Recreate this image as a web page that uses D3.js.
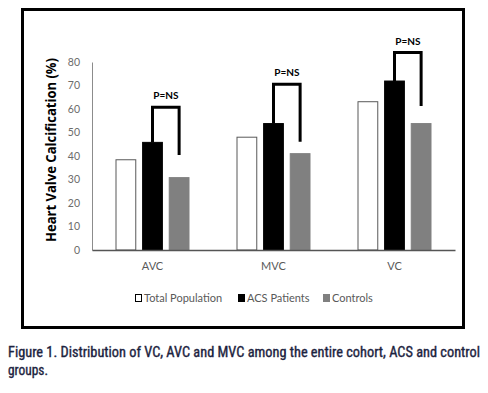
<!DOCTYPE html>
<html>
<head>
<meta charset="utf-8">
<script src="https://cdn.jsdelivr.net/npm/d3@7"></script>
<style>
  body { margin: 0; background: #fff; }
  svg { display: block; }
</style>
</head>
<body>
<div id="chart"></div>
<script>
// values
const categories = ["AVC", "MVC", "VC"];
const seriesNames = ["Total Population", "ACS Patients", "Controls"];
const totalPopulation = [38.4, 48.0, 63.1];
const acsPatients = [45.8, 53.8, 71.9];
const controls = [30.8, 41.0, 53.8];
const yTicks = [0, 10, 20, 30, 40, 50, 60, 70, 80];
// significance brackets: height of top bar, end of right leg
const bracketTop = [60.7, 70.5, 84.0];
const bracketEnd = [40.4, 46.1, 61.3];
const bracketLabel = ["P=NS", "P=NS", "P=NS"];

const width = 488, height = 393;
const margin = { top: 62, right: 33, bottom: 143, left: 92 };
const innerW = width - margin.left - margin.right;
const innerH = height - margin.top - margin.bottom;

const svg = d3.select('#chart')
  .append('svg')
  .attr('width', width)
  .attr('height', height);

// frame round the chart
svg.append('rect')
  .attr('x', 22.5).attr('y', 9.5)
  .attr('width', 441).attr('height', 318)
  .attr('fill', 'none')
  .attr('stroke', '#000')
  .attr('stroke-width', 3);

const g = svg.append('g')
  .attr('transform', `translate(${margin.left},${margin.top})`);

const x0 = d3.scaleBand().domain(categories).range([0, innerW]).paddingInner(0).paddingOuter(0);
const x1 = d3.scaleBand().domain(seriesNames).range([23.5, x0.bandwidth() - 23.5]).paddingInner(0.22).paddingOuter(0);
const y = d3.scaleLinear().domain([0, 80]).range([innerH, 0]);

const fills = { "Total Population": "#fff", "ACS Patients": "#000", "Controls": "#808080" };
const strokes = { "Total Population": "#595959", "ACS Patients": "#000", "Controls": "#808080" };

const rows = categories.map((c, i) => ({
  cat: c,
  vals: [
    { s: seriesNames[0], v: totalPopulation[i] },
    { s: seriesNames[1], v: acsPatients[i] },
    { s: seriesNames[2], v: controls[i] }
  ]
}));

// y axis
const yAxis = g.append('g')
  .call(d3.axisLeft(y).tickValues(yTicks).tickSize(0).tickPadding(12));
yAxis.select('.domain').attr('stroke', '#8c8c8c');
yAxis.selectAll('text')
  .attr('fill', '#6b6b6b')
  .style('font-family', 'Lato, "Open Sans", sans-serif')
  .style('font-size', '10.5px');

// bars
const grp = g.selectAll('.grp')
  .data(rows)
  .enter().append('g')
  .attr('transform', d => `translate(${x0(d.cat)},0)`);

grp.selectAll('rect')
  .data(d => d.vals)
  .enter().append('rect')
  .attr('x', d => x1(d.s) + 0.5)
  .attr('y', d => y(d.v))
  .attr('width', x1.bandwidth() - 1)
  .attr('height', d => innerH - y(d.v))
  .attr('fill', d => fills[d.s])
  .attr('stroke', d => strokes[d.s])
  .attr('stroke-width', 1);

// x axis
const xAxis = g.append('g')
  .attr('transform', `translate(0,${innerH})`)
  .call(d3.axisBottom(x0).tickSize(0).tickPadding(12));
xAxis.select('.domain').attr('stroke', '#555').attr('stroke-width', 1.3);
xAxis.selectAll('text')
  .attr('fill', '#595959')
  .style('font-family', 'Lato, "Open Sans", sans-serif')
  .style('font-size', '11px');

// brackets
rows.forEach((r, i) => {
  const left = x0(r.cat) + x1(seriesNames[1]) + x1.bandwidth() / 2;
  const right = x0(r.cat) + x1(seriesNames[2]) + x1.bandwidth() / 2;
  const line = d3.line();
  g.append('path')
    .attr('d', line([[left, y(r.vals[1].v)], [left, y(bracketTop[i])], [right, y(bracketTop[i])], [right, y(bracketEnd[i])]]))
    .attr('fill', 'none')
    .attr('stroke', '#000')
    .attr('stroke-width', 3);
  g.append('text')
    .attr('x', (left + right) / 2)
    .attr('y', y(bracketTop[i]) - 8)
    .attr('text-anchor', 'middle')
    .style('font-family', 'Lato, "Open Sans", sans-serif')
    .style('font-weight', 'bold')
    .style('font-size', '10px')
    .text(bracketLabel[i]);
});

// y axis title
svg.append('text')
  .attr('transform', 'translate(56,150) rotate(-90)')
  .attr('text-anchor', 'middle')
  .attr('textLength', 184)
  .attr('lengthAdjust', 'spacingAndGlyphs')
  .style('font-family', '"Open Sans", Lato, sans-serif')
  .style('font-weight', 'bold')
  .style('font-size', '13.5px')
  .text('Heart Valve Calcification (%)');

// legend
const legendX = [135, 238, 323];
const legend = svg.append('g').attr('transform', 'translate(0,298)');
seriesNames.forEach((s, i) => {
  legend.append('rect')
    .attr('x', legendX[i] + 0.5).attr('y', -3.5)
    .attr('width', 6).attr('height', 7)
    .attr('fill', fills[s])
    .attr('stroke', i === 0 ? '#000' : fills[s])
    .attr('stroke-width', 1);
  legend.append('text')
    .attr('x', legendX[i] + 9)
    .attr('y', 4)
    .attr('fill', '#595959')
    .style('font-family', 'Lato, "Open Sans", sans-serif')
    .style('font-size', '11px')
    .text(s);
});

// caption
const capFont = '"Liberation Sans Narrow", "Roboto Condensed", "Liberation Sans", sans-serif';
svg.append('text')
  .attr('x', 8).attr('y', 357)
  .attr('textLength', 472)
  .attr('lengthAdjust', 'spacingAndGlyphs')
  .attr('fill', '#1c2340')
  .attr('stroke', '#1c2340')
  .attr('stroke-width', 0.35)
  .style('font-family', capFont)
  .style('font-size', '14px')
  .text('Figure 1. Distribution of VC, AVC and MVC among the entire cohort, ACS and control');
svg.append('text')
  .attr('x', 8).attr('y', 375)
  .attr('textLength', 40)
  .attr('lengthAdjust', 'spacingAndGlyphs')
  .attr('fill', '#1c2340')
  .attr('stroke', '#1c2340')
  .attr('stroke-width', 0.35)
  .style('font-family', capFont)
  .style('font-size', '14px')
  .text('groups.');
</script>
</body>
</html>
